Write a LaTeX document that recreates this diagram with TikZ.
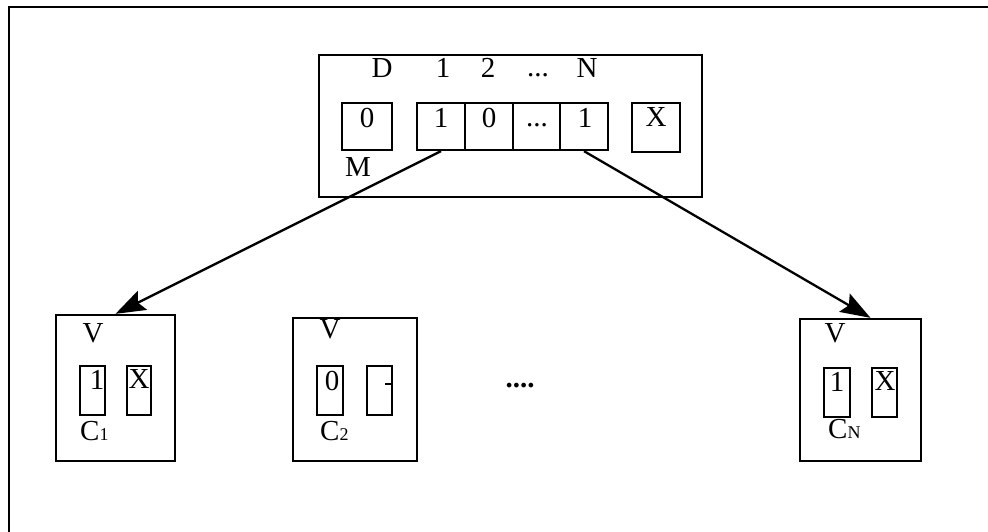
\documentclass[tikz,border=0pt]{standalone}
\usepackage{fontspec}
\setmainfont{Liberation Serif}
\usetikzlibrary{arrows.meta,fit}
\begin{document}
\begin{tikzpicture}[x=1pt,y=-1pt,
  box/.style={draw,line width=2.3pt,inner sep=0pt},
  txt/.style={font=\fontsize{29}{29}\selectfont,inner sep=0pt},
  arr/.style={line width=2.3pt,-{Stealth[length=30pt,width=21pt,inset=5pt]}}]
\useasboundingbox (0,0) rectangle (988,532);
% outer frame
\coordinate (fa) at (9,532);
\coordinate (fb) at (9,7);
\coordinate (fc) at (988,7);
\draw[line width=2.3pt] (fa) -- (fb) -- (fc);
% top box
\node[box,fit={(319,55)(702,197)}] (top) {};
\node[box,fit={(342,103)(392,150)}] (mbox) {};
\node[box,fit={(417,103)(465,150)}] (cell1) {};
\node[box,fit={(465,103)(513,150)}] (cell2) {};
\node[box,fit={(513,103)(560,150)}] (cell3) {};
\node[box,fit={(560,103)(608,150)}] (cellN) {};
\node[box,fit={(632,103)(680,152)}] (xbox) {};
\node[txt] (lD) at (382,68) {D};
\node[txt] (l1) at (443,68) {1};
\node[txt] (l2) at (488,68) {2};
\node[txt] (l3) at (538,75) {...};
\node[txt] (lN) at (587,68) {N};
\node[txt] (tm) at (367,118) {0};
\node[txt] (t1) at (441,118) {1};
\node[txt] (t2) at (489,118) {0};
\node[txt] (t3) at (537,125) {...};
\node[txt] (tN) at (585,118) {1};
\node[txt] (tx) at (656,117) {X};
\node[txt] (lM) at (358,167) {M};
% cache C1
\node[box,fit={(56,315)(175,461)}] (c1) {};
\node[txt] (v1) at (93,333) {V};
\node[box,fit={(80,366)(105,415)}] (c1a) {};
\node[box,fit={(127,366)(151,415)}] (c1b) {};
\node[txt] (c1at) at (97,380) {1};
\node[txt] (c1bt) at (139,379) {X};
\node[txt,anchor=base west] (c1l) at (80,440) {C\fontsize{18}{18}\selectfont 1};
% cache C2
\node[box,fit={(293,318)(417,461)}] (c2) {};
\node[txt] (v2) at (330,329) {V};
\node[box,fit={(317,366)(343,415)}] (c2a) {};
\node[box,fit={(367,366)(392,415)}] (c2b) {};
\node[txt] (c2at) at (332,381) {0};
\coordinate (tk1) at (385,384);
\coordinate (tk2) at (c2b.east |- tk1);
\draw[line width=2pt] (tk1) -- (tk2);
\node[txt,anchor=base west] (c2l) at (320,440) {C\fontsize{18}{18}\selectfont 2};
% dots
\node[font=\fontsize{29}{29}\selectfont\bfseries,inner sep=0pt] (dots) at (520,386) {....};
% cache CN
\node[box,fit={(800,319)(921,461)}] (cn) {};
\node[txt] (vn) at (835,333) {V};
\node[box,fit={(824,368)(850,417)}] (cna) {};
\node[box,fit={(872,368)(897,417)}] (cnb) {};
\node[txt] (cnat) at (837,382) {1};
\node[txt] (cnbt) at (885,381) {X};
\node[txt,anchor=base west] (cnl) at (828,438) {C\fontsize{18}{18}\selectfont N};
% arrows
\draw[arr] (cell1.south) -- (c1.north);
\draw[arr] (cellN.south) -- ([xshift=10pt]cn.north);
\end{tikzpicture}
\end{document}
